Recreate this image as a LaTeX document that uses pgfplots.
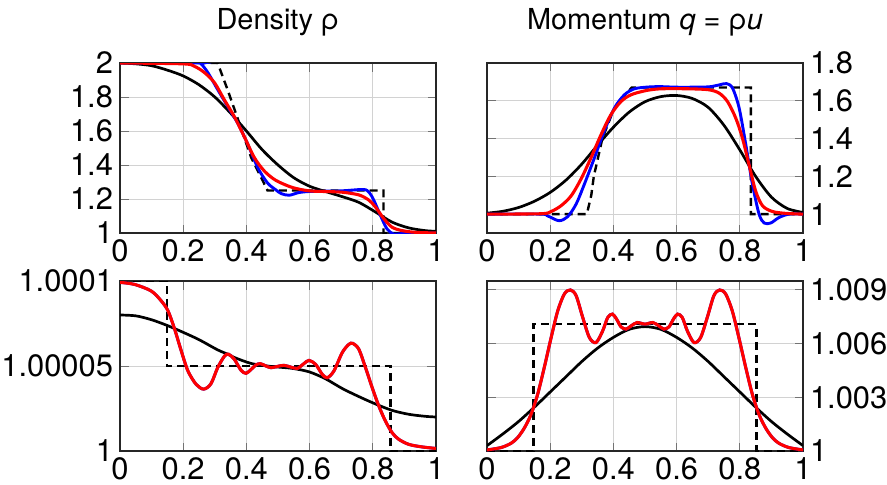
\documentclass[border=0pt]{standalone}
\usepackage{fontspec}
\setmainfont{TeX Gyre Heros}
\usepackage{pgfplots}
\pgfplotsset{compat=1.18}
\usepackage{pgfplotstable}

% bottom-left: (rho-1)*1e5
\pgfplotstableread{
x v
0 9.92
0.046 9.8
0.099 9.41
0.131 8.82
0.152 8.24
0.173 7.16
0.194 5.88
0.215 4.71
0.241 3.92
0.265 3.64
0.288 3.96
0.309 4.90
0.331 5.59
0.344 5.69
0.362 5.39
0.383 4.75
0.399 4.57
0.415 4.80
0.430 5.06
0.444 5.14
0.462 5.00
0.478 4.90
0.499 4.98
0.519 5.04
0.540 4.94
0.561 4.86
0.582 5.14
0.598 5.33
0.619 5.10
0.640 4.51
0.656 4.31
0.677 4.71
0.703 5.78
0.724 6.27
0.737 6.33
0.756 5.98
0.777 4.90
0.798 3.73
0.819 2.65
0.840 1.76
0.861 1.08
0.882 0.69
0.914 0.39
0.956 0.24
1 0.15
}\tabBL

% bottom-right: (q-1)*1e3
\pgfplotstableread{
x w
0 0.06
0.044 0.19
0.076 0.43
0.097 0.75
0.118 1.28
0.139 2.03
0.160 3.15
0.181 4.65
0.203 6.34
0.224 7.84
0.245 8.78
0.264 9.00
0.282 8.68
0.303 7.46
0.324 6.34
0.345 6.06
0.366 6.71
0.382 7.46
0.397 7.65
0.410 7.37
0.424 6.94
0.440 6.81
0.456 6.99
0.475 7.18
0.500 7.09
0.525 7.18
0.544 6.99
0.560 6.81
0.576 6.94
0.590 7.37
0.603 7.65
0.618 7.46
0.634 6.71
0.655 6.06
0.676 6.34
0.697 7.46
0.718 8.68
0.736 9.00
0.755 8.78
0.776 7.84
0.797 6.34
0.819 4.65
0.840 3.15
0.861 2.03
0.882 1.28
0.903 0.75
0.924 0.43
0.956 0.19
1 0.06
}\tabBR

\pgfplotsset{
  base/.style={
    width=158bp, height=85bp, scale only axis,
    xmin=0, xmax=1, xtick={0,0.2,0.4,0.6,0.8,1},
    grid=major, grid style={gray!35, line width=0.5pt},
    axis line style={black!85, line width=0.7pt},
    tick style={black!55, line width=0.5pt},
    tick label style={font=\fontsize{15.5}{17}\selectfont},
    /pgf/number format/assume math mode=true,
    title style={font=\fontsize{14.5}{16}\selectfont, at={(0.5,1)}, anchor=base, yshift=11bp},
  },
  ex/.style={black, line width=1.2pt, dash pattern=on 4pt off 2.5pt},
  rf/.style={black, line width=1.35pt, smooth},
  bl/.style={blue, line width=1.45pt, smooth},
  rd/.style={red, line width=1.55pt, smooth},
}

\begin{document}
\begin{tikzpicture}
% ---------- top left: density ----------
\begin{axis}[base, at={(60bp,-116.5bp)}, anchor=south west,
  ymin=1, ymax=2, ytick={1,1.2,1.4,1.6,1.8,2},
  title={Density ρ}]
\addplot[ex] coordinates {(0,2) (0.309,2) (0.341,1.84) (0.378,1.644) (0.415,1.444) (0.467,1.25) (0.834,1.25) (0.834,1) (1,1)};
\addplot[rf] coordinates {(0,2.0) (0.05,1.995) (0.1,1.984) (0.15,1.958) (0.2,1.924) (0.25,1.872) (0.3,1.80) (0.35,1.705) (0.4,1.60) (0.45,1.49) (0.5,1.40) (0.55,1.325) (0.6,1.275) (0.65,1.244) (0.703,1.214) (0.756,1.18) (0.808,1.124) (0.861,1.064) (0.914,1.03) (0.966,1.014) (1,1.01)};
\addplot[bl] coordinates {(0,2) (0.246,2.0) (0.257,1.994) (0.278,1.944) (0.309,1.844) (0.341,1.744) (0.373,1.644) (0.404,1.524) (0.436,1.384) (0.467,1.294) (0.493,1.254) (0.51,1.232) (0.535,1.222) (0.566,1.238) (0.598,1.244) (0.65,1.246) (0.703,1.248) (0.77,1.256) (0.788,1.24) (0.803,1.194) (0.824,1.104) (0.845,1.024) (0.866,0.994) (0.893,0.997) (0.935,1.0) (1,1)};
\addplot[rd] coordinates {(0,2) (0.2,1.995) (0.236,1.98) (0.267,1.944) (0.299,1.884) (0.33,1.784) (0.362,1.684) (0.394,1.564) (0.425,1.444) (0.457,1.364) (0.493,1.31) (0.545,1.268) (0.598,1.248) (0.65,1.244) (0.703,1.24) (0.756,1.224) (0.787,1.194) (0.808,1.154) (0.835,1.084) (0.861,1.034) (0.893,1.014) (0.935,1.004) (1,1.0)};
\end{axis}
% ---------- top right: momentum ----------
\begin{axis}[base, at={(243.5bp,-116.5bp)}, anchor=south west,
  ymin=0.9, ymax=1.8, ytick={1,1.2,1.4,1.6,1.8}, yticklabel pos=right,
  title={Momentum \textit{q} = ρ\textit{u}}]
\addplot[ex] coordinates {(0,1) (0.316,1) (0.33,1.1) (0.338,1.2) (0.365,1.4) (0.40,1.55) (0.42,1.6) (0.458,1.67) (0.835,1.67) (0.835,1) (1,1)};
\addplot[rf] coordinates {(0,1.005) (0.05,1.015) (0.1,1.035) (0.15,1.068) (0.2,1.115) (0.25,1.18) (0.3,1.265) (0.35,1.365) (0.4,1.46) (0.45,1.54) (0.5,1.595) (0.55,1.622) (0.6,1.628) (0.65,1.612) (0.7,1.565) (0.75,1.47) (0.8,1.34) (0.85,1.2) (0.9,1.09) (0.95,1.03) (1,1.009)};
\addplot[bl] coordinates {(0,1) (0.17,1.0) (0.19,0.992) (0.203,0.982) (0.229,0.965) (0.255,0.986) (0.282,1.053) (0.308,1.158) (0.34,1.298) (0.371,1.439) (0.403,1.561) (0.435,1.632) (0.466,1.663) (0.503,1.672) (0.545,1.675) (0.598,1.672) (0.65,1.672) (0.703,1.674) (0.735,1.684) (0.758,1.691) (0.777,1.667) (0.798,1.561) (0.819,1.368) (0.84,1.158) (0.861,1.0) (0.877,0.953) (0.898,0.953) (0.924,0.982) (0.956,1.0) (1,1)};
\addplot[rd] coordinates {(0,1) (0.171,1.002) (0.203,1.014) (0.234,1.044) (0.266,1.096) (0.297,1.184) (0.329,1.298) (0.361,1.421) (0.392,1.526) (0.424,1.596) (0.456,1.632) (0.503,1.654) (0.545,1.663) (0.598,1.664) (0.65,1.663) (0.703,1.658) (0.735,1.64) (0.761,1.596) (0.787,1.509) (0.808,1.404) (0.829,1.263) (0.85,1.123) (0.872,1.044) (0.903,1.014) (0.945,1.004) (1,1.0)};
\end{axis}
% ---------- bottom left ----------
\begin{axis}[base, at={(60bp,-225.5bp)}, anchor=south west,
  ymin=0, ymax=10, ytick={0,5,10}, yticklabels={1,1.00005,1.0001}]
\addplot[ex] coordinates {(0,10) (0.148,10) (0.148,5) (0.856,5) (0.856,0) (1,0)};
\addplot[rf] coordinates {(0,8.0) (0.05,7.95) (0.1,7.72) (0.15,7.38) (0.2,6.98) (0.25,6.55) (0.309,5.95) (0.343,5.68) (0.362,5.5) (0.415,5.15) (0.467,5.0) (0.504,4.93) (0.545,4.86) (0.598,4.66) (0.65,4.25) (0.703,3.68) (0.756,3.2) (0.808,2.77) (0.861,2.39) (0.914,2.16) (0.966,2.04) (1,2.0)};
\addplot[bl] table[x=x, y=v] {\tabBL};
\addplot[rd] table[x=x, y=v] {\tabBL};
\end{axis}
% ---------- bottom right ----------
\begin{axis}[base, at={(243.5bp,-225.5bp)}, anchor=south west,
  ymin=0, ymax=9.5, ytick={0,3,6,9}, yticklabels={1,1.003,1.006,1.009}, yticklabel pos=right]
\addplot[ex] coordinates {(0,0) (0.147,0) (0.147,7.1) (0.853,7.1) (0.853,0) (1,0)};
\addplot[rf] coordinates {(0,0.3) (0.05,0.95) (0.1,1.65) (0.15,2.45) (0.2,3.3) (0.25,4.15) (0.3,5.0) (0.35,5.75) (0.4,6.35) (0.45,6.8) (0.5,6.95) (0.55,6.8) (0.6,6.35) (0.65,5.75) (0.7,5.0) (0.75,4.15) (0.8,3.3) (0.85,2.45) (0.9,1.65) (0.95,0.95) (1,0.3)};
\addplot[bl] table[x=x, y=w] {\tabBR};
\addplot[rd] table[x=x, y=w] {\tabBR};
\end{axis}
\pgfresetboundingbox
\path[use as bounding box] (0,0) rectangle (443.5bp,-242.5bp);
\end{tikzpicture}
\end{document}
